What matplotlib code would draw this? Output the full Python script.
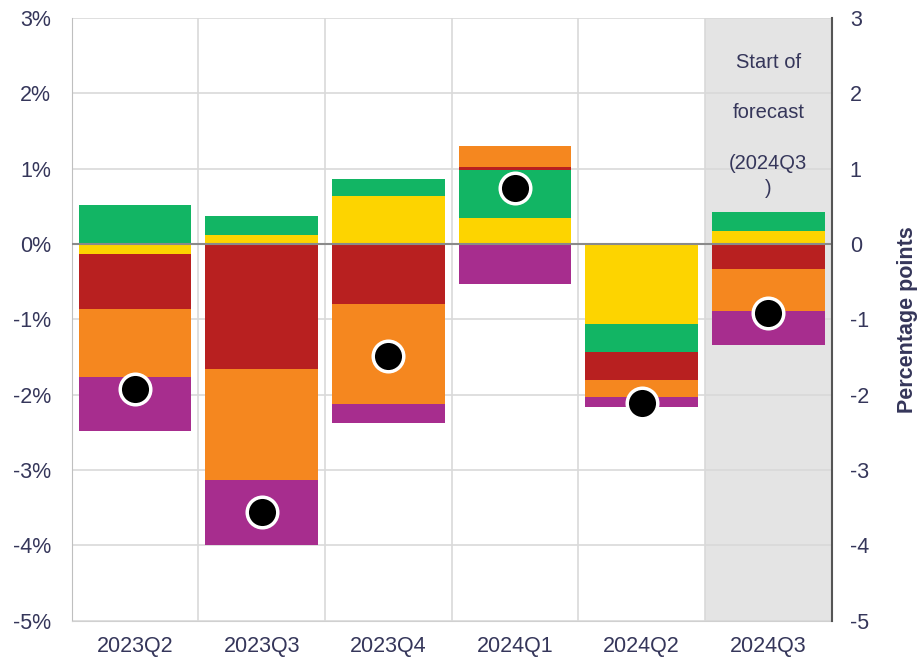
import matplotlib
matplotlib.use('Agg')
import matplotlib.pyplot as plt
import matplotlib.ticker as ticker
import numpy as np

# quarters and contributions (percentage points)
quarters = ['2023Q2', '2023Q3', '2023Q4', '2024Q1', '2024Q2', '2024Q3']
yellow = [-0.13, 0.12, 0.64, 0.35, -1.06, 0.17]
green = [0.52, 0.25, 0.22, 0.63, -0.37, 0.25]
red = [-0.73, -1.66, -0.80, 0.04, -0.37, -0.33]
orange = [-0.90, -1.47, -1.32, 0.28, -0.23, -0.56]
purple = [-0.72, -0.87, -0.25, -0.53, -0.13, -0.45]
total = [-1.93, -3.55, -1.49, 0.74, -2.11, -0.91]

series = [yellow, green, red, orange, purple]
colours = ['#FDD400', '#12B564', '#B82020', '#F5871F', '#A72D8E']
txt = '#35365A'

plt.rcParams['font.family'] = ['Liberation Sans', 'DejaVu Sans']
plt.rcParams['axes.unicode_minus'] = False

fig = plt.figure(figsize=(9.2, 6.64), dpi=100)
ax = fig.add_axes([0.078, 0.065, 0.826, 0.908])

x = np.arange(len(quarters))
pos = np.zeros(len(quarters))
neg = np.zeros(len(quarters))
for vals, col in zip(series, colours):
    vals = np.array(vals)
    bottoms = np.where(vals >= 0, pos, neg)
    ax.bar(x, vals, width=0.89, bottom=bottoms, color=col, zorder=2)
    pos = pos + np.where(vals >= 0, vals, 0)
    neg = neg + np.where(vals < 0, vals, 0)

ax.plot(x, total, linestyle='', marker='o', markersize=22, markerfacecolor='black',
        markeredgecolor='white', markeredgewidth=2.5, zorder=4)

# forecast shading
ax.axvspan(4.5, 5.5, color='#E4E4E4', zorder=0.2, lw=0)
ax.axhline(0, color='#8A8A8A', lw=1.5, zorder=3)

ax.set_xlim(-0.5, 5.5)
ax.set_ylim(-5, 3)
ax.set_xticks(x)
ax.set_xticklabels(quarters)
ax.xaxis.set_minor_locator(ticker.FixedLocator(np.arange(-0.5, 5.6, 1)))
ax.set_yticks(range(-5, 4))
ax.yaxis.set_major_formatter(ticker.FuncFormatter(lambda v, p: '%d%%' % v))
ax.set_axisbelow(True)
ax.grid(axis='y', which='major', color='#D9D9D9', lw=1.2)
ax.grid(axis='x', which='minor', color='#D9D9D9', lw=1.2)
ax.tick_params(axis='both', which='both', length=0, labelsize=15.5, labelcolor=txt)
ax.tick_params(axis='x', pad=11)
ax.tick_params(axis='y', pad=15)
for s in ['top', 'right']:
    ax.spines[s].set_visible(False)
ax.spines['left'].set_color('#BFBFBF')
ax.spines['bottom'].set_color('#D0D0D0')

ax2 = ax.twinx()
ax2.set_ylim(-5, 3)
ax2.set_yticks(range(-5, 4))
ax2.tick_params(axis='y', length=0, labelsize=15.5, labelcolor=txt, pad=13)
for s in ['top', 'left', 'bottom']:
    ax2.spines[s].set_visible(False)
ax2.spines['right'].set_color('#555555')
ax2.spines['right'].set_linewidth(1.5)
ax2.set_ylabel('Percentage points', fontsize=15.5, fontweight='bold', color=txt, labelpad=20)

for yv, s in zip([2.41, 1.74, 1.07, 0.74], ['Start of', 'forecast', '(2024Q3', ')']):
    ax.text(5, yv, s, ha='center', va='center', fontsize=14.5, color=txt, zorder=5)

fig.savefig('out.png', dpi=100)
